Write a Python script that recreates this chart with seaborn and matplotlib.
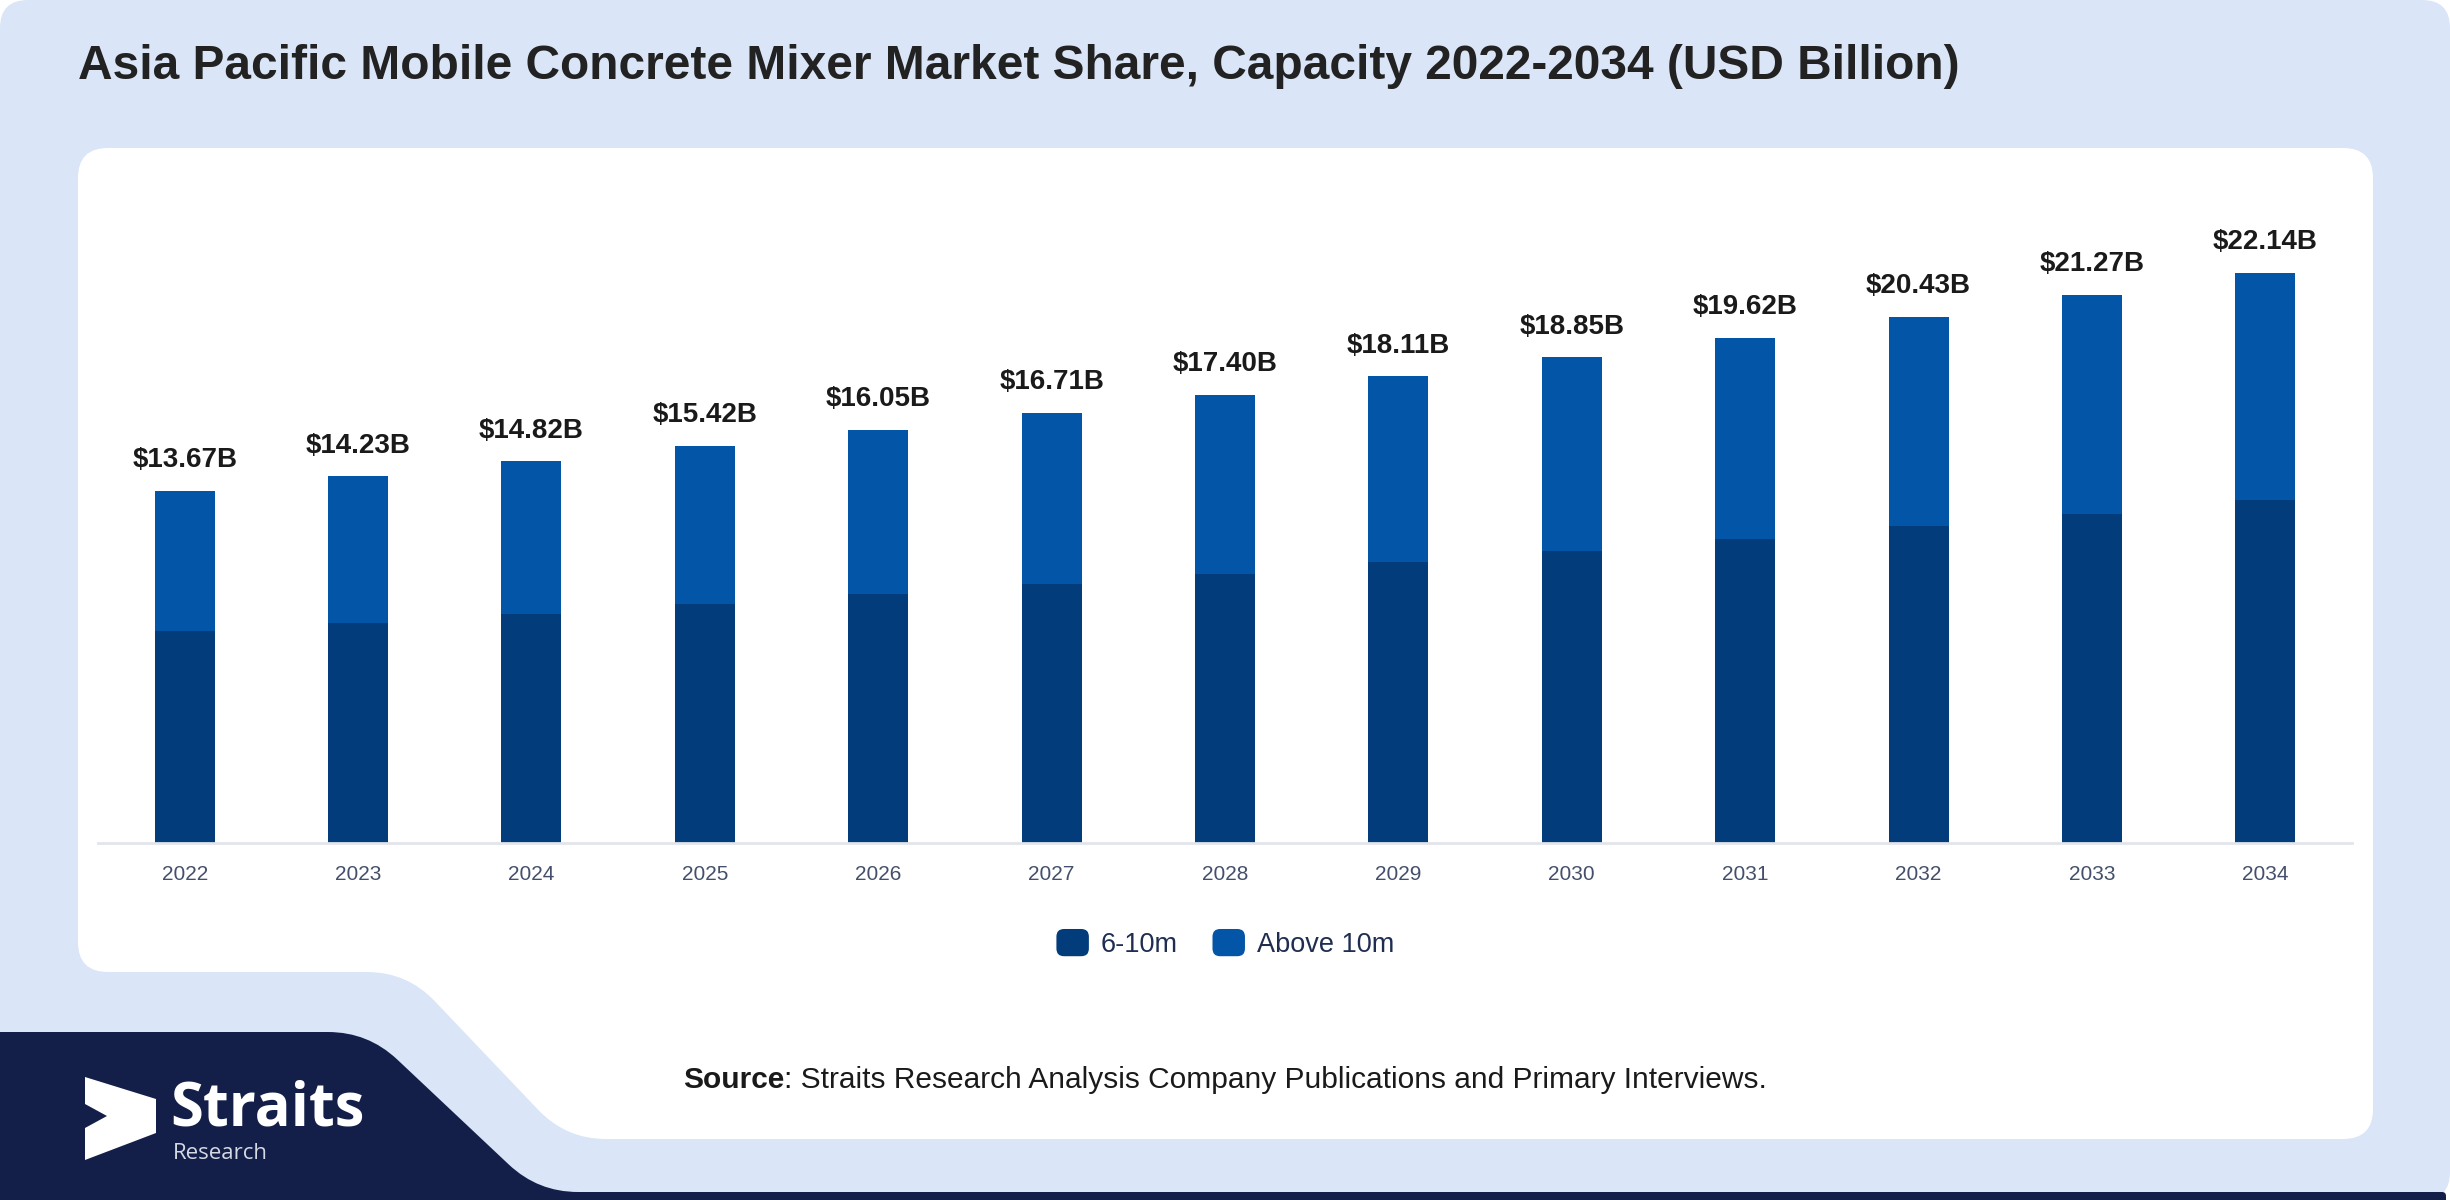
import numpy as np
import pandas as pd
import seaborn as sns
import matplotlib.pyplot as plt
from matplotlib.path import Path
from matplotlib.patches import PathPatch, Patch, FancyBboxPatch, Polygon
from matplotlib.legend_handler import HandlerPatch

# values (USD Billion)
years = ["2022", "2023", "2024", "2025", "2026", "2027", "2028",
         "2029", "2030", "2031", "2032", "2033", "2034"]
size_6_10 = [8.23, 8.54, 8.89, 9.27, 9.65, 10.05, 10.46,
             10.91, 11.35, 11.82, 12.30, 12.78, 13.32]
above_10 = [5.44, 5.69, 5.93, 6.15, 6.40, 6.66, 6.94,
            7.20, 7.50, 7.80, 8.13, 8.49, 8.82]
totals = [13.67, 14.23, 14.82, 15.42, 16.05, 16.71, 17.40,
          18.11, 18.85, 19.62, 20.43, 21.27, 22.14]
series_names = ["6-10m", "Above 10m"]

DARK = "#023c7a"
LIGHT = "#0355a7"
BG = "#dae6f8"
NAVY = "#131f48"

sns.set_style("white")
plt.rcParams["font.family"] = ["Liberation Sans", "DejaVu Sans"]

W, H = 2450, 1200
fig = plt.figure(figsize=(24.5, 12), dpi=100, facecolor="white")


def rounded_path(pts, radii):
    # polygon with quadratic-rounded corners, in pixel coords
    if np.isscalar(radii):
        radii = [radii] * len(pts)
    verts, codes = [], []
    n = len(pts)
    for i in range(n):
        p0, p1, p2 = np.array(pts[i - 1], float), np.array(pts[i], float), np.array(pts[(i + 1) % n], float)
        r = radii[i]
        d1 = (p0 - p1) / np.linalg.norm(p0 - p1)
        d2 = (p2 - p1) / np.linalg.norm(p2 - p1)
        a, b = p1 + d1 * r, p1 + d2 * r
        verts.append(a)
        codes.append(Path.MOVETO if i == 0 else Path.LINETO)
        verts += [p1, b]
        codes += [Path.CURVE3, Path.CURVE3]
    verts.append(verts[0])
    codes.append(Path.CLOSEPOLY)
    return Path(verts, codes)


# background decoration
bg = fig.add_axes([0, 0, 1, 1], zorder=0)
bg.set_xlim(0, W)
bg.set_ylim(H, 0)
bg.axis("off")
bg.add_patch(PathPatch(rounded_path([(0, 0), (W, 0), (W, H), (0, H)], 28), fc=BG, ec="none"))
bg.add_patch(PathPatch(rounded_path([(0, 1032), (368, 1032), (538, 1192), (2446, 1192), (2446, H), (0, H)],
                                    [0, 40, 40, 4, 0, 0]), fc=NAVY, ec="none"))
bg.add_patch(PathPatch(rounded_path([(78, 148), (2373, 148), (2373, 1139), (566, 1139), (407, 972), (78, 972)],
                                    [30, 30, 30, 40, 40, 30]), fc="white", ec="none"))
bg.add_patch(Polygon([(85, 1077), (156, 1099), (156, 1133), (85, 1160), (85, 1128), (107, 1116), (85, 1104)],
                     closed=True, fc="white", ec="none"))
bg.text(170, 1125, "Straits", color="white", fontsize=43, fontweight="bold",
        family=["Open Sans", "DejaVu Sans"], va="baseline", ha="left")
bg.text(173, 1159, "Research", color="#d5d9e3", fontsize=16,
        family=["Open Sans", "DejaVu Sans"], va="baseline", ha="left")

# chart
ax = fig.add_axes([98 / W, 1 - 843 / H, (2352 - 98) / W, (843 - 199) / H], zorder=1)
ax.patch.set_alpha(0)

df = pd.DataFrame({"Year": years, series_names[0]: size_6_10, series_names[1]: above_10})
df["Stack"] = df[series_names[0]] + df[series_names[1]]

sns.barplot(data=df, x="Year", y="Stack", color=LIGHT, saturation=1, width=0.346,
            linewidth=0, ax=ax)
sns.barplot(data=df, x="Year", y=series_names[0], color=DARK, saturation=1, width=0.346,
            linewidth=0, ax=ax)

for i, v in enumerate(totals):
    ax.annotate(f"${v:.2f}B", (i, v), xytext=(0, 17), textcoords="offset points",
                ha="center", va="baseline", fontsize=20, fontweight="bold", color="#1a1a1a")

ax.set_xlim(-0.5, 12.5)
ax.set_ylim(0, 25)
ax.set_yticks([])
ax.set_xlabel("")
ax.set_ylabel("")
for s in ["top", "left", "right"]:
    ax.spines[s].set_visible(False)
ax.spines["bottom"].set_color("#e2e5ea")
ax.spines["bottom"].set_linewidth(2)
ax.tick_params(axis="x", length=0, pad=16, labelsize=15, labelcolor="#44506b")


def rounded_square(legend, orig_handle, xdescent, ydescent, width, height, fontsize):
    return FancyBboxPatch((-xdescent, -ydescent), width, height,
                          boxstyle="round,pad=0,rounding_size=6")


handles = [Patch(facecolor=DARK, label=series_names[0]), Patch(facecolor=LIGHT, label=series_names[1])]
leg = fig.legend(handles=handles, loc="center", bbox_to_anchor=(0.5, 1 - 943 / H), ncol=2,
                 frameon=False, fontsize=19.5, handlelength=1.25, handleheight=1.25,
                 handletextpad=0.42, columnspacing=1.25,
                 handler_map={Patch: HandlerPatch(patch_func=rounded_square)})
for t in leg.get_texts():
    t.set_color("#1f2d50")

fig.text(78 / W, 1 - 79 / H, "Asia Pacific Mobile Concrete Mixer Market Share, Capacity 2022-2034 (USD Billion)",
         fontsize=34.5, fontweight="bold", color="#222222", va="baseline", ha="left")

# source line: bold "Source" then regular text
src_y = 1 - 1088 / H
t1 = fig.text(683 / W, src_y, "Source", fontsize=21.5, fontweight="bold", color="#1a1a1a", va="baseline")
fig.canvas.draw()
bb = t1.get_window_extent()
fig.text(bb.x1 / W, src_y, ": Straits Research Analysis Company Publications and Primary Interviews.",
         fontsize=21.5, color="#1a1a1a", va="baseline")

fig.savefig("out.png", dpi=100, facecolor="white")
